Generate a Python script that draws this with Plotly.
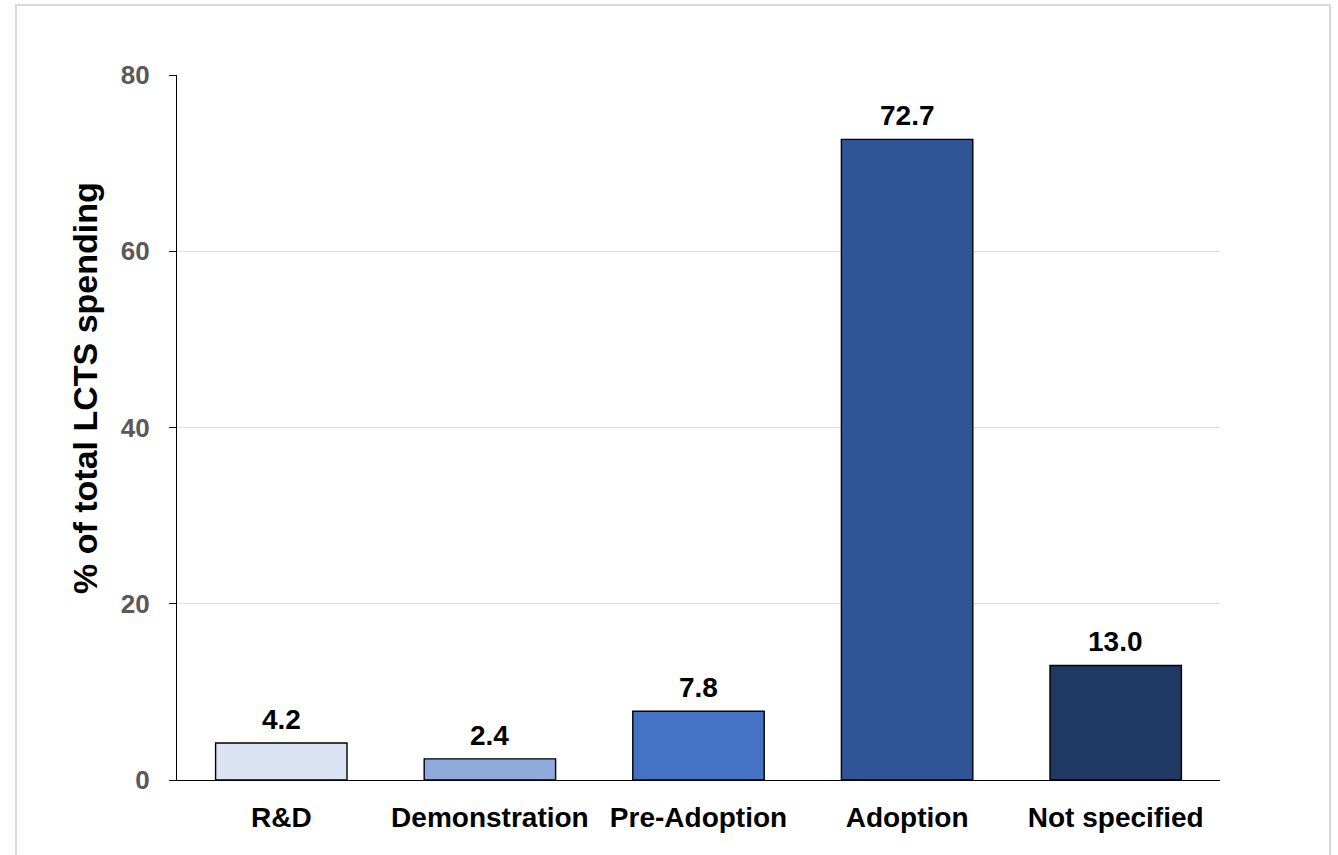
import plotly.graph_objects as go

# Share of total LCTS spending by innovation stage
stages = ["R&D", "Demonstration", "Pre-Adoption", "Adoption", "Not specified"]
shares = [4.2, 2.4, 7.8, 72.7, 13.0]
bar_colors = ["#DAE3F3", "#8FAADC", "#4472C4", "#2F5597", "#203864"]
y_ticks = [0, 20, 40, 60, 80]

W, H = 1338, 855
L, R, T, B = 177, 118, 75, 75
pw, ph = W - L - R, H - T - B
FONT = "Liberation Sans, Arial"

fig = go.Figure(
    go.Bar(
        x=stages,
        y=shares,
        marker=dict(color=bar_colors, line=dict(color="#000000", width=1.4)),
        cliponaxis=False,
    )
)

# value labels above each bar
for name, val in zip(stages, shares):
    fig.add_annotation(
        x=name, y=val, text=f"{val:.1f}", showarrow=False,
        yanchor="bottom", yshift=6,
        font=dict(family=FONT, size=28, color="#000000", weight="bold"),
    )

# y-axis title placed by pixel position
fig.add_annotation(
    xref="paper", yref="paper",
    x=(85 - L) / pw, y=(H - B - 388) / ph,
    text="% of total LCTS spending", textangle=-90, showarrow=False,
    xanchor="center", yanchor="middle",
    font=dict(family=FONT, size=34, color="#000000", weight="bold"),
)

# light frame around the whole chart
fig.add_shape(
    type="rect", xref="paper", yref="paper",
    x0=(16 - L) / pw, x1=(1330 - L) / pw,
    y0=(H - B - 870) / ph, y1=(H - B - 5) / ph,
    line=dict(color="#d9d9d9", width=2), fillcolor="rgba(0,0,0,0)", layer="below",
)

fig.update_layout(
    width=W, height=H,
    margin=dict(l=L, r=R, t=T, b=B, pad=0),
    paper_bgcolor="white", plot_bgcolor="white",
    bargap=0.37,
    showlegend=False,
    font=dict(family=FONT),
    xaxis=dict(
        showline=True, linecolor="#000000", linewidth=1.4,
        ticks="", showgrid=False,
        tickfont=dict(size=28, color="#000000", weight="bold"),
        ticklabelstandoff=12,
    ),
    yaxis=dict(
        range=[0, 80], tickvals=y_ticks,
        showline=True, linecolor="#000000", linewidth=1.4,
        ticks="outside", ticklen=7, tickcolor="#000000", tickwidth=1.4,
        showgrid=True, gridcolor="#dedede", gridwidth=1,
        zeroline=False,
        tickfont=dict(size=26, color="#595959", weight="bold"),
        ticklabelstandoff=14,
    ),
)

fig.write_html("out.html")
